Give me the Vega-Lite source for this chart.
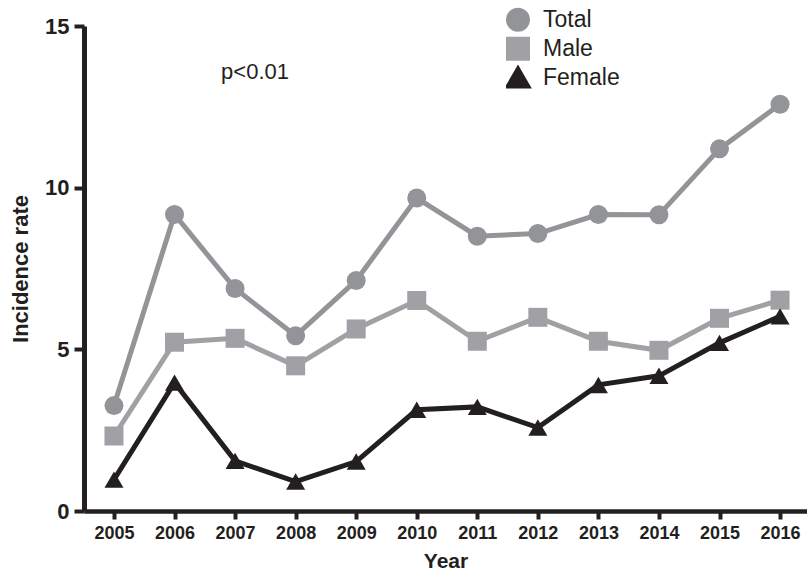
{
  "$schema": "https://vega.github.io/schema/vega-lite/v6.json",
  "width": 723,
  "height": 485,
  "autosize": {"type": "none"},
  "padding": {"left": 84, "top": 26, "right": 0, "bottom": 64},
  "background": "white",
  "config": {
    "view": {"stroke": null},
    "font": "Liberation Sans",
    "axis": {"grid": false, "domainColor": "#231f20", "tickColor": "#231f20", "labelColor": "#231f20", "titleColor": "#231f20", "labelFont": "Liberation Sans", "titleFont": "Liberation Sans"}
  },
  "data": {
    "values": [
      {"year": 2005, "series": "Total", "value": 3.26},
      {"year": 2006, "series": "Total", "value": 9.17},
      {"year": 2007, "series": "Total", "value": 6.88},
      {"year": 2008, "series": "Total", "value": 5.42},
      {"year": 2009, "series": "Total", "value": 7.13},
      {"year": 2010, "series": "Total", "value": 9.68},
      {"year": 2011, "series": "Total", "value": 8.5},
      {"year": 2012, "series": "Total", "value": 8.58},
      {"year": 2013, "series": "Total", "value": 9.17},
      {"year": 2014, "series": "Total", "value": 9.16},
      {"year": 2015, "series": "Total", "value": 11.2},
      {"year": 2016, "series": "Total", "value": 12.58},
      {"year": 2005, "series": "Male", "value": 2.32},
      {"year": 2006, "series": "Male", "value": 5.22},
      {"year": 2007, "series": "Male", "value": 5.34},
      {"year": 2008, "series": "Male", "value": 4.49},
      {"year": 2009, "series": "Male", "value": 5.63},
      {"year": 2010, "series": "Male", "value": 6.51},
      {"year": 2011, "series": "Male", "value": 5.25},
      {"year": 2012, "series": "Male", "value": 5.99},
      {"year": 2013, "series": "Male", "value": 5.25},
      {"year": 2014, "series": "Male", "value": 4.97},
      {"year": 2015, "series": "Male", "value": 5.96},
      {"year": 2016, "series": "Male", "value": 6.52},
      {"year": 2005, "series": "Female", "value": 0.97},
      {"year": 2006, "series": "Female", "value": 3.97},
      {"year": 2007, "series": "Female", "value": 1.55},
      {"year": 2008, "series": "Female", "value": 0.91},
      {"year": 2009, "series": "Female", "value": 1.53},
      {"year": 2010, "series": "Female", "value": 3.13},
      {"year": 2011, "series": "Female", "value": 3.22},
      {"year": 2012, "series": "Female", "value": 2.58},
      {"year": 2013, "series": "Female", "value": 3.9},
      {"year": 2014, "series": "Female", "value": 4.18},
      {"year": 2015, "series": "Female", "value": 5.2},
      {"year": 2016, "series": "Female", "value": 6.02}
    ]
  },
  "encoding": {
    "x": {
      "field": "year", "type": "quantitative",
      "scale": {"domain": [2004.505, 2016.445], "nice": false, "zero": false},
      "axis": {"values": [2005, 2006, 2007, 2008, 2009, 2010, 2011, 2012, 2013, 2014, 2015, 2016], "format": "d", "title": "Year",
        "domainWidth": 4.5, "tickWidth": 4, "tickSize": 8, "labelPadding": 5, "labelFontSize": 18, "labelFontWeight": "bold",
        "titleFontSize": 21, "titleFontWeight": "bold", "titlePadding": 8, "labelFlush": false}
    },
    "y": {
      "field": "value", "type": "quantitative",
      "scale": {"domain": [0, 15], "nice": false},
      "axis": {"values": [0, 5, 10, 15], "title": "Incidence rate",
        "domainWidth": 5, "tickWidth": 4, "tickSize": 10, "labelPadding": 5, "labelFontSize": 22, "labelFontWeight": "bold",
        "titleFontSize": 22, "titleFontWeight": "bold", "titlePadding": 12, "labelFlush": false}
    }
  },
  "layer": [
    {
      "mark": {"type": "line"},
      "encoding": {
        "color": {"field": "series", "type": "nominal", "scale": {"domain": ["Total", "Male", "Female"], "range": ["#929497", "#a1a1a5", "#231f20"]},
          "legend": {"title": null, "orient": "none", "legendX": 422, "legendY": -20.5, "symbolSize": 169, "symbolStrokeWidth": 0, "symbolOpacity": 1, "labelFontSize": 23, "labelFont": "Liberation Sans", "labelColor": "#231f20", "labelOffset": 13, "rowPadding": 0, "clipHeight": 28.5, "padding": 0}},
        "strokeWidth": {"field": "series", "type": "ordinal", "scale": {"domain": ["Total", "Male", "Female"], "range": [5, 5, 3.5]}, "legend": null}
      }
    },
    {
      "mark": {"type": "point", "filled": true, "opacity": 1, "strokeWidth": 0},
      "encoding": {
        "color": {"field": "series", "type": "nominal", "scale": {"domain": ["Total", "Male", "Female"], "range": ["#929497", "#a1a1a5", "#231f20"]},
          "legend": {"title": null, "orient": "none", "legendX": 422, "legendY": -20.5, "symbolSize": 169, "symbolStrokeWidth": 0, "symbolOpacity": 1, "labelFontSize": 23, "labelFont": "Liberation Sans", "labelColor": "#231f20", "labelOffset": 13, "rowPadding": 0, "clipHeight": 28.5, "padding": 0}},
        "shape": {"field": "series", "type": "nominal", "scale": {"domain": ["Total", "Male", "Female"], "range": ["circle", "square", "triangle-up"]},
          "legend": {"title": null, "orient": "none", "legendX": 422, "legendY": -20.5, "symbolSize": 169, "symbolStrokeWidth": 0, "symbolOpacity": 1, "labelFontSize": 23, "labelFont": "Liberation Sans", "labelColor": "#231f20", "labelOffset": 13, "rowPadding": 0, "clipHeight": 28.5, "padding": 0}},
        "size": {"field": "series", "type": "nominal", "scale": {"domain": ["Total", "Male", "Female"], "range": [361, 361, 170]}, "legend": null}
      }
    },
    {
      "transform": [{"filter": "datum.year === 2005 && datum.series === 'Total'"}],
      "mark": {"type": "text", "fontSize": 22, "font": "Liberation Sans", "color": "#231f20", "align": "center", "baseline": "middle"},
      "encoding": {
        "x": {"datum": 2007.33, "type": "quantitative"},
        "y": {"datum": 13.57, "type": "quantitative"},
        "text": {"value": "p<0.01"}
      }
    }
  ]
}
